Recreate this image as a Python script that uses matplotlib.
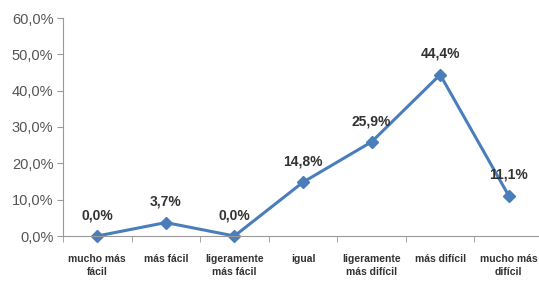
import matplotlib.pyplot as plt
from matplotlib.ticker import FixedLocator

categories = ["mucho más\nfácil", "más fácil", "ligeramente\nmás fácil", "igual",
              "ligeramente\nmás difícil", "más difícil", "mucho más\ndifícil"]
values = [0.0, 3.7, 0.0, 14.8, 25.9, 44.4, 11.1]
yticks = [0, 10, 20, 30, 40, 50, 60]

plt.rcParams['font.family'] = ['Liberation Sans', 'DejaVu Sans']

fig = plt.figure(figsize=(5.39, 2.83), dpi=100)
ax = fig.add_axes([63/539, 1 - 236/283, (543 - 63)/539, (236 - 18)/283])

x = list(range(len(values)))
ax.plot(x, values, color='#4a7ebb', linewidth=2.2, marker='D', markersize=6,
        markerfacecolor='#4a7ebb', markeredgecolor='#4a7ebb', clip_on=False)

for xi, v in zip(x, values):
  ax.annotate("{:.1f}%".format(v).replace('.', ','), (xi, v), xytext=(0, 10),
              textcoords='offset points', ha='center', va='bottom',
              fontsize=10, fontweight='bold', color='#333333')

ax.set_xlim(-0.5, len(values) - 0.5)
ax.set_ylim(0, 60)
ax.set_yticks(yticks)
ax.set_yticklabels(["{:.1f}%".format(t).replace('.', ',') for t in yticks],
                   fontsize=10.5, color='#555555')
ax.set_xticks(x)
ax.set_xticklabels(categories, fontsize=7.5, fontweight='bold', color='#333333',
                   linespacing=1.35)
ax.tick_params(axis='x', which='major', length=0, pad=13)
ax.xaxis.set_minor_locator(FixedLocator([i - 0.5 for i in range(len(values) + 1)]))
ax.tick_params(axis='x', which='minor', length=4, color='#999999')
ax.tick_params(axis='y', length=4, color='#999999', pad=3)

for s in ['top', 'right']:
  ax.spines[s].set_visible(False)
for s in ['left', 'bottom']:
  ax.spines[s].set_color('#999999')

fig.savefig('out.png', dpi=100)
